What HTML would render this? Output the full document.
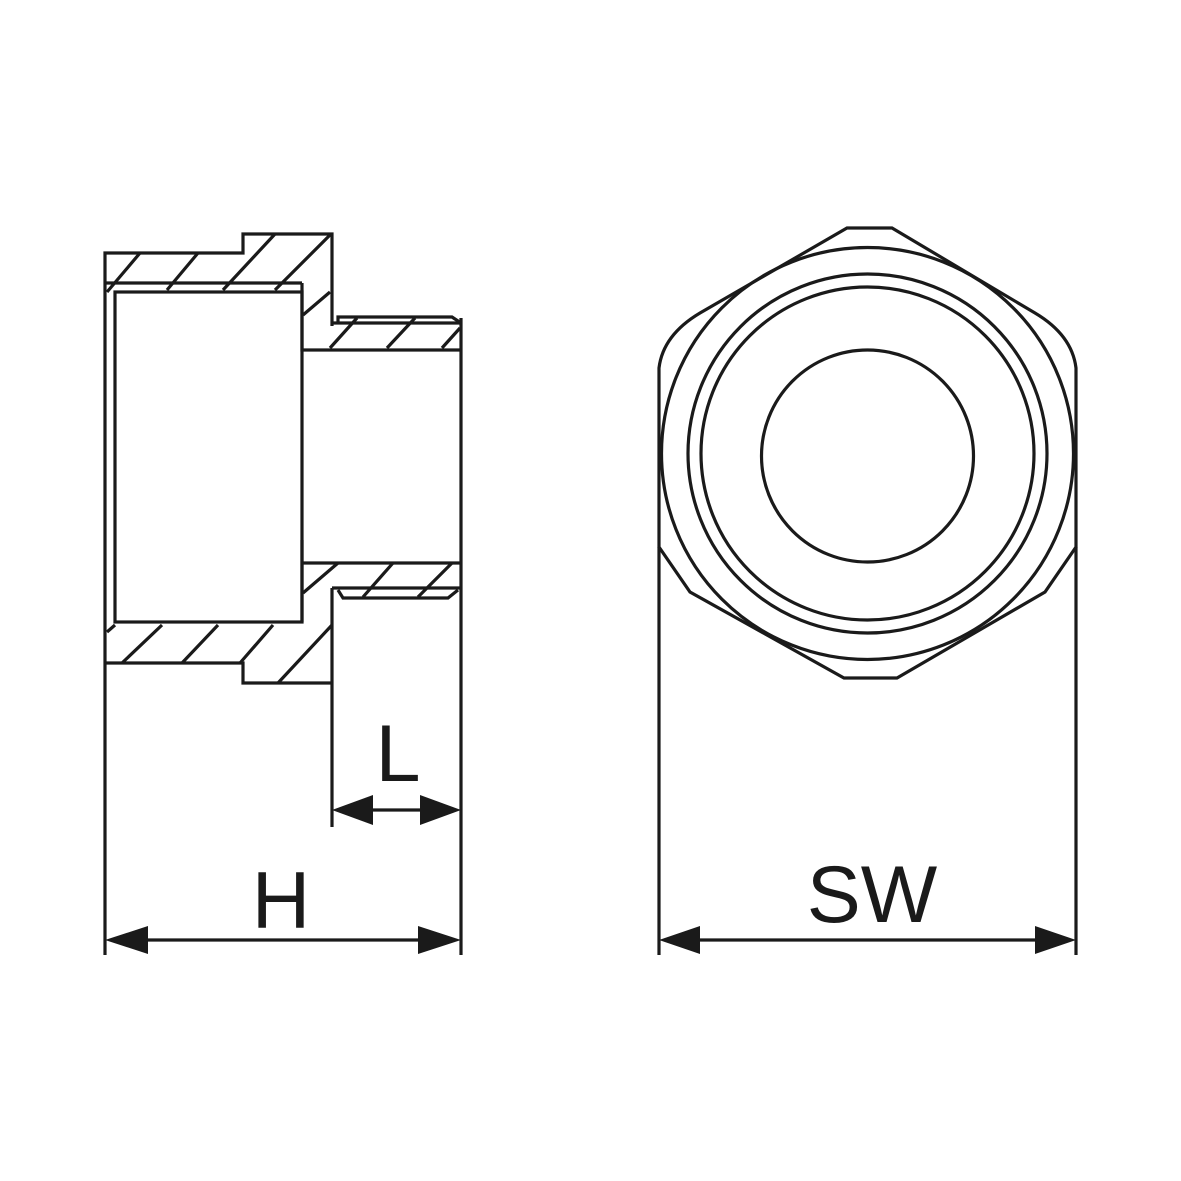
<!DOCTYPE html>
<html><head><meta charset="utf-8"><style>html,body{margin:0;padding:0;background:#fff}svg{display:block}</style></head>
<body>
<svg width="1181" height="1181" viewBox="0 0 1181 1181" xmlns="http://www.w3.org/2000/svg">
<g fill="none" stroke="#1a1a1a" stroke-width="3.2" stroke-linejoin="miter">
<!-- outer profile -->
<polyline points="105,955 105,253 243,253 243,234 332,234 332,326"/>
<polyline points="332,323 461,323"/>
<polyline points="338,323 338,317 452,317 461,323"/>
<line x1="461" y1="318" x2="461" y2="955"/>
<polyline points="105,663 243,663 243,683 332,683"/>
<line x1="332" y1="588" x2="332" y2="827"/>
<line x1="332" y1="588" x2="461" y2="588"/>
<polyline points="338,590 343,598 448,598 458,590"/>
<!-- inner -->
<line x1="105" y1="283" x2="302" y2="283"/>
<polyline points="302,283 302,350 461,350"/>
<line x1="302" y1="563" x2="461" y2="563"/>
<rect x="115" y="292" width="187" height="330"/>
<line x1="302" y1="540" x2="302" y2="622"/>
<!-- hatches -->
<path d="M107,292L140,253 M167,290L198,253 M223,290L275,234 M275,290L330,235 M303,315L330,292 M330,348L357,318 M387,348L415,318 M442,348L460,328
M303,593L338,563 M363,597L393,563 M418,597L452,563 M107,632L115,625 M122,663L162,625 M182,663L218,625 M240,663L273,625 M278,683L332,625"/>
<!-- hex -->
<path d="M847,228 L892,228 L1035,313 Q1072,335 1076,368 L1076,547 L1045,592 L897,678 L844,678 L690,592 L659,547 L659,368 Q663,335 700,313 Z"/>
<line x1="659" y1="547" x2="659" y2="955"/>
<line x1="1076" y1="547" x2="1076" y2="955"/>
<circle cx="867.5" cy="453.5" r="206"/>
<circle cx="867.5" cy="453.5" r="179.5"/>
<circle cx="867.5" cy="453.5" r="166.5"/>
<circle cx="867.5" cy="456" r="106"/>
<!-- dimension lines -->
<line x1="372" y1="810" x2="421" y2="810"/>
<line x1="145" y1="940" x2="421" y2="940"/>
<line x1="699" y1="940" x2="1036" y2="940"/>
</g>
<g fill="#1a1a1a">
<polygon points="332,810 373,795 373,825"/>
<polygon points="461,810 420,795 420,825"/>
<polygon points="105,940 148,926 148,954"/>
<polygon points="461,940 418,926 418,954"/>
<polygon points="659,940 700,926 700,954"/>
<polygon points="1076,940 1035,926 1035,954"/>
</g>
<g font-family="Liberation Sans, sans-serif" font-size="81" fill="#1a1a1a" text-anchor="middle">
<text x="398" y="781">L</text>
<text x="281" y="928">H</text>
<text x="872" y="922">SW</text>
</g>
</svg>
</body></html>
